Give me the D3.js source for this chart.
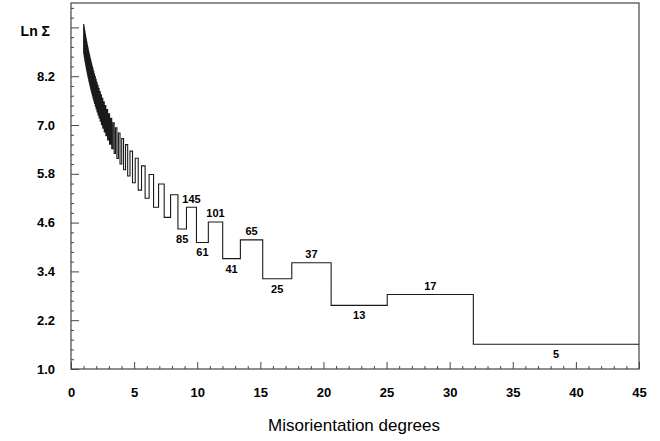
<!DOCTYPE html>
<html><head><meta charset="utf-8">
<script src="https://cdn.jsdelivr.net/npm/d3@7"></script>
<style>
html,body{margin:0;padding:0;background:#fff;}
svg{display:block;font-family:"Liberation Sans",Arial,sans-serif;}
</style></head>
<body>
<svg id="chart" width="660" height="441"></svg>
<script>
// Σ values of the step curve, in order of decreasing misorientation angle
const sigmaValues = [5,17,13,37,25,65,41,101,61,145,
85,197,113,257,145,325,181,401,221,485,
265,577,313,677,365,785,421,901,481,1025,
545,1157,613,1297,685,1445,761,1601,841,1765,
925,1937,1013,2117,1105,2305,1201,2501,1301,2705,
1405,2917,1513,3137,1625,3365,1741,3601,1861,3845,
1985,4097,2113,4357,2245,4625,2381,4901,2521,5185,
2665,5477,2813,5777,2965,6085,3121,6401,3281,6725,
3445,7057,3613,7397,3785,7745,3961,8101,4141,8465,
4325,8837,4513,9217,4705,9605,4901,10001,5101,10405,
5305,10817,5513,11237,5725,11665,5941,12101,6161,12545,
6385,12997,6613];
// misorientation angle (degrees) of each Σ above
const angleValues = [36.870,28.072,22.620,18.925,16.260,14.250,12.680,11.421,10.389,9.527,
8.797,8.171,7.628,7.153,6.733,6.360,6.026,5.725,5.453,5.205,
4.979,4.772,4.581,4.405,4.242,4.091,3.950,3.818,3.695,3.580,
3.471,3.369,3.273,3.182,3.096,3.015,2.938,2.864,2.794,2.728,
2.664,2.604,2.546,2.491,2.438,2.387,2.338,2.292,2.247,2.204,
2.162,2.122,2.084,2.046,2.010,1.976,1.942,1.910,1.879,1.848,
1.819,1.791,1.763,1.736,1.710,1.685,1.661,1.637,1.614,1.592,
1.570,1.549,1.528,1.508,1.488,1.469,1.451,1.432,1.415,1.397,
1.381,1.364,1.348,1.332,1.317,1.302,1.288,1.273,1.259,1.246,
1.232,1.219,1.206,1.194,1.181,1.169,1.158,1.146,1.135,1.123,
1.113,1.102,1.091,1.081,1.071,1.061,1.051,1.042,1.032,1.023,
1.014,1.005,0.997];
// annotated steps
const labelSigmas = [145,85,101,61,65,41,37,25,17,13,5];
const labelSides  = ["above","below","above","below","above","below","above","below","above","below","below"];
// axes
const xTickValues = [0,5,10,15,20,25,30,35,40,45];
const yTickLabels = ["1.0","2.2","3.4","4.6","5.8","7.0","8.2"];
const xMax = 45;
const yDomain = [1.0, 10.0];

const svg = d3.select("#chart");
const L = 71, R = 639, T = 3, B = 369;
const x = d3.scaleLinear().domain([0, xMax]).range([L, R]);
const y = d3.scaleLinear().domain(yDomain).range([B, T]);

// frame
svg.append("rect").attr("x", L).attr("y", T).attr("width", R - L).attr("height", B - T)
  .attr("fill", "none").attr("stroke", "#444").attr("stroke-width", 1.2);

// x ticks
const xMinor = d3.range(0, xMax + 0.001, 1).filter(v => v % 5 !== 0);
const gxMinor = svg.append("g").attr("transform", `translate(0,${B})`)
  .call(d3.axisBottom(x).tickValues(xMinor).tickSize(-3).tickFormat(""));
const gx = svg.append("g").attr("transform", `translate(0,${B})`)
  .call(d3.axisBottom(x).tickValues(xTickValues).tickSize(-7).tickPadding(19).tickFormat(d3.format("d")));
// y ticks
const yMajorVals = yTickLabels.map(Number);
const yStep = yMajorVals[1] - yMajorVals[0];
const yMinor = d3.range(0, 38).map(k => +(yDomain[0] + k * yStep / 5).toFixed(3)).filter((v, k) => k % 5 !== 0);
const gyMinor = svg.append("g").attr("transform", `translate(${L},0)`)
  .call(d3.axisLeft(y).tickValues(yMinor).tickSize(-3).tickFormat(""));
const gy = svg.append("g").attr("transform", `translate(${L},0)`)
  .call(d3.axisLeft(y).tickValues(yMajorVals.concat([9.4])).tickSize(-8).tickPadding(16)
    .tickFormat(d => { const i = yMajorVals.indexOf(d); return i >= 0 ? yTickLabels[i] : ""; }));

[gxMinor, gx, gyMinor, gy].forEach(g => {
  g.select(".domain").remove();
  g.selectAll(".tick line").attr("stroke", "#444").attr("stroke-width", 1);
  g.selectAll(".tick text").attr("fill", "#000").attr("font-size", 13).attr("font-weight", "bold")
    .attr("font-family", "'Liberation Sans', Arial, sans-serif");
});

// step curve data, sorted by increasing angle
const pts = sigmaValues.map((s, i) => ({ s, a: angleValues[i], lab: i }))
  .sort((p, q) => p.a - q.a);
const N = pts.length;
const hm = (a, b) => 2 * a * b / (a + b);
const bounds = pts.map((p, j) => ({
  left: j === 0 ? p.a : hm(pts[j - 1].a, p.a),
  right: j === N - 1 ? xMax : hm(p.a, pts[j + 1].a)
}));
const linePts = pts.map((p, j) => [bounds[j].left, Math.log(p.s)]);
linePts.push([xMax, Math.log(pts[N - 1].s)]);

const line = d3.line().x(d => x(d[0])).y(d => y(d[1])).curve(d3.curveStepAfter);
svg.append("path").attr("d", line(linePts))
  .attr("fill", "none").attr("stroke", "#1a1a1a").attr("stroke-width", 1.1);

// labels
labelSigmas.forEach((s, k) => {
  const origIdx = sigmaValues.indexOf(s);
  const j = pts.findIndex(p => p.lab === origIdx);
  const cx = (bounds[j].left + bounds[j].right) / 2;
  const ly = y(Math.log(s));
  svg.append("text")
    .attr("x", x(cx)).attr("y", labelSides[k] === "above" ? ly - 4.5 : ly + 14)
    .attr("text-anchor", "middle").attr("font-size", 11).attr("font-weight", "bold")
    .attr("fill", "#000").text(s);
});

// axis titles
svg.append("text").attr("x", 50).attr("y", 36).attr("text-anchor", "end")
  .attr("font-size", 14).attr("font-weight", "bold").attr("fill", "#000").text("Ln Σ");
svg.append("text").attr("x", 354).attr("y", 431).attr("text-anchor", "middle")
  .attr("font-size", 17).attr("fill", "#000").text("Misorientation degrees");
</script>
</body></html>
